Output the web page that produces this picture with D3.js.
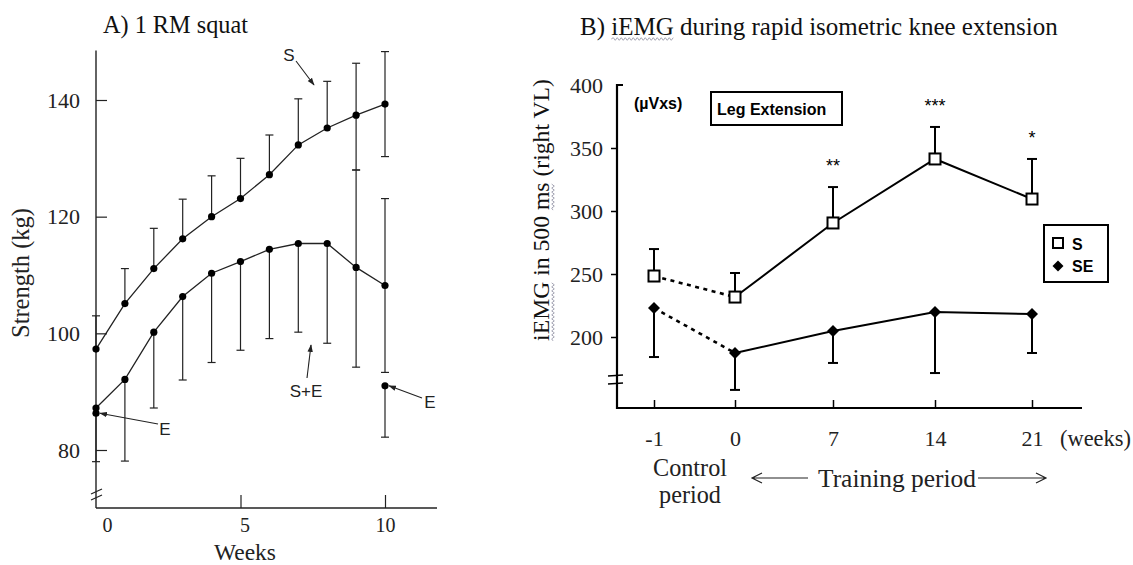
<!DOCTYPE html>
<html><head><meta charset="utf-8">
<script src="https://cdn.jsdelivr.net/npm/d3@7"></script>
<style>body{margin:0;background:#fff} svg{display:block}</style>
</head><body><svg id="c" width="1133" height="565"></svg>
<script>
// ---------- Panel A data: 1 RM squat ----------
const weeksA = [0,1,2,3,4,5,6,7,8,9,10];
const sMean   = [97.3,105.1,111.1,116.2,120.0,123.1,127.2,132.3,135.2,137.4,139.3];
const sUpper  = [103,111.1,118,123,127,130,134,140.2,143.2,146.3,148.3];
const sLower  = [null,null,null,null,null,null,null,null,null,128,130.3];
const seMean  = [87.2,92.1,100.2,106.3,110.3,112.3,114.4,115.4,115.4,111.3,108.2];
const seLower = [78,78.1,87.2,92,95,97.1,99.1,100.2,98.3,94.2,93.3];
const seUpper = [null,null,null,null,null,null,null,null,null,128,123.1];
const eWeeks  = [0,10];
const eMean   = [86.3,91];
const eLower  = [null,82.2];
const yTicksA = [80,100,120,140];
const xTicksA = [0,5,10];

// ---------- Panel B data: iEMG ----------
const weeksB = [-1,0,7,14,21];
const weekLabelsB = ["-1","0","7","14","21"];
const sB       = [248.4,231.7,290.5,341.3,309.5];
const sBUpper  = [269.8,250.8,319,366.7,341.3];
const seB      = [223,187.3,204.8,219.8,218.3];
const seBLower = [184.1,158,179.4,171.4,187.3];
const sigLabels = ["","","**","***","*"];
const yTicksB = [200,250,300,350,400];

const SERIF = "'Liberation Serif','Times New Roman',serif";
const SANS = "'Liberation Sans',Arial,sans-serif";
const svg = d3.select("#c");
const defs = svg.append("defs");
defs.append("marker").attr("id","ah").attr("viewBox","0 0 10 10").attr("refX",9).attr("refY",5)
  .attr("markerWidth",7).attr("markerHeight",7).attr("orient","auto-start-reverse")
  .append("path").attr("d","M0,1.5L10,5L0,8.5Z").attr("fill","#222");

function fit(t, width){
  const n = t.node(); const w = n.getComputedTextLength();
  const fs = parseFloat(t.attr("font-size"));
  t.attr("font-size", fs*width/w);
  return t;
}
function squiggle(g, x0, x1, y){
  let d = "M"+x0+","+y; let up = true;
  for(let x=x0+2; x<=x1; x+=2){ d += "L"+x+","+(y+(up?-1.3:1.3)); up=!up; }
  g.append("path").attr("d",d).attr("fill","none").attr("stroke","#9a9aaa").attr("stroke-width",0.9);
}

// ================= PANEL A =================
const xA = d3.scaleLinear([0,10],[96,385]);
const yA = d3.scaleLinear([80,140],[450,100]);
const A = svg.append("g");
const inkA = "#222";

// titles
fit(A.append("text").attr("x",103).attr("y",33).attr("font-family",SERIF).attr("font-size",22).attr("fill","#111").text("A) 1 RM squat"),145);
fit(A.append("text").attr("transform","translate(29,273) rotate(-90)").attr("text-anchor","middle")
  .attr("font-family",SERIF).attr("font-size",20).attr("fill","#222").text("Strength (kg)"),130);
fit(A.append("text").attr("x",245).attr("y",560).attr("text-anchor","middle")
  .attr("font-family",SERIF).attr("font-size",20).attr("fill","#222").text("Weeks"),62);

// y axis
const gyA = A.append("g").attr("transform","translate(96,0)")
  .call(d3.axisLeft(yA).tickValues(yTicksA).tickSizeInner(-11).tickSizeOuter(0).tickPadding(16));
gyA.select(".domain").remove();
gyA.selectAll("line").attr("stroke",inkA).attr("stroke-width",1.2);
gyA.selectAll("text").attr("font-family",SERIF).attr("font-size",22).attr("fill","#222");
A.append("line").attr("x1",96).attr("x2",96).attr("y1",yA(148.5)).attr("y2",508).attr("stroke",inkA).attr("stroke-width",1.4);
// break marks
A.append("line").attr("x1",91).attr("y1",494).attr("x2",102).attr("y2",489).attr("stroke",inkA).attr("stroke-width",1.2);
A.append("line").attr("x1",91).attr("y1",500).attr("x2",102).attr("y2",495).attr("stroke",inkA).attr("stroke-width",1.2);

// x axis
const gxA = A.append("g").attr("transform","translate(0,508)")
  .call(d3.axisBottom(xA).tickValues(xTicksA).tickSizeInner(-13).tickSizeOuter(0).tickPadding(10));
gxA.select(".domain").remove();
gxA.selectAll("line").attr("stroke",inkA).attr("stroke-width",1.2);
gxA.selectAll(".tick").filter(d=>d===0).select("line").remove();
gxA.selectAll("text").attr("font-family",SERIF).attr("font-size",20).attr("fill","#222")
  .attr("dx",d=>d===0?11:(d===5?4:0));
A.append("line").attr("x1",96).attr("x2",xA(11.8)).attr("y1",508).attr("y2",508).attr("stroke",inkA).attr("stroke-width",1.4);

// error bars
function errA(weeks, mean, bound){
  weeks.forEach((w,i)=>{
    const b = bound[i]; if(b==null) return;
    A.append("line").attr("x1",xA(w)).attr("x2",xA(w)).attr("y1",yA(mean[i])).attr("y2",yA(b)).attr("stroke",inkA).attr("stroke-width",1.2);
    A.append("line").attr("x1",xA(w)-4).attr("x2",xA(w)+4).attr("y1",yA(b)).attr("y2",yA(b)).attr("stroke",inkA).attr("stroke-width",1.2);
  });
}
errA(weeksA,sMean,sUpper); errA(weeksA,sMean,sLower);
errA(weeksA,seMean,seLower); errA(weeksA,seMean,seUpper);
errA(eWeeks,eMean,eLower);

const lineA = d3.line().x((d,i)=>xA(weeksA[i])).y(d=>yA(d));
A.append("path").attr("d",lineA(sMean)).attr("fill","none").attr("stroke",inkA).attr("stroke-width",1.3);
A.append("path").attr("d",lineA(seMean)).attr("fill","none").attr("stroke",inkA).attr("stroke-width",1.3);
[[weeksA,sMean],[weeksA,seMean],[eWeeks,eMean]].forEach(([w,m])=>{
  A.selectAll(null).data(m).enter().append("circle").attr("cx",(d,i)=>xA(w[i])).attr("cy",d=>yA(d)).attr("r",3.6).attr("fill","#000");
});

// annotations
function ann(label, lx, ly, x1,y1,x2,y2){
  A.append("text").attr("x",lx).attr("y",ly).attr("text-anchor","middle").attr("dy","0.35em")
    .attr("font-family",SANS).attr("font-size",17).attr("fill","#222").text(label);
  A.append("line").attr("x1",x1).attr("y1",y1).attr("x2",x2).attr("y2",y2).attr("stroke",inkA).attr("stroke-width",1.1).attr("marker-end","url(#ah)");
}
ann("S",289,55, 296,61, 314,85);
ann("S+E",306,391, 307,378, 311,345);
ann("E",165,429, 158,424, xA(0)+4,yA(eMean[0]));
ann("E",430,402, 422,398, xA(10)+4,yA(eMean[1]));

// ================= PANEL B =================
const xB = d3.scaleLinear(weeksB,[654,735,833,935,1032]);
const yB = d3.scaleLinear([200,400],[337,85]);
const B = svg.append("g");
const axX = 617, axBottom = 408;

// title
const tB = fit(B.append("text").attr("x",580).attr("y",35).attr("font-family",SERIF).attr("font-size",22).attr("fill","#111")
  .text("B) iEMG during rapid isometric knee extension"),478);
{
  const n = tB.node(); const s = 580 + n.getSubStringLength(0,3); const w = n.getSubStringLength(3,4);
  squiggle(B, s, s+w, 39);
}
// y label
const gYL = B.append("g").attr("transform","translate(549,210) rotate(-90)");
const yl = fit(gYL.append("text").attr("text-anchor","middle").attr("font-family",SERIF).attr("font-size",20).attr("fill","#111")
  .text("iEMG in 500 ms (right VL)"),262);
{
  const n = yl.node();
  const p0 = n.getStartPositionOfChar(0).x, w0 = n.getSubStringLength(0,4);
  squiggle(gYL, p0, p0+w0, 4);
  const p1 = n.getStartPositionOfChar(12).x, w1 = n.getSubStringLength(12,2);
  squiggle(gYL, p1, p1+w1, 4);
}

// y axis
const gyB = B.append("g").attr("transform",`translate(${axX},0)`)
  .call(d3.axisLeft(yB).tickValues(yTicksB).tickSizeInner(6).tickSizeOuter(0).tickPadding(8));
gyB.select(".domain").remove();
gyB.selectAll("line").attr("stroke","#000").attr("stroke-width",1.5);
gyB.selectAll(".tick").filter(d=>d===400).select("line").remove();
gyB.selectAll("text").attr("font-family",SERIF).attr("font-size",22).attr("fill","#222");
B.append("path").attr("d",`M${axX+6},${yB(400)}H${axX}V${axBottom}H${xB(21)+50}`)
  .attr("fill","none").attr("stroke","#000").attr("stroke-width",2.2);
// break marks
B.append("line").attr("x1",axX-9).attr("x2",axX+6).attr("y1",376).attr("y2",375).attr("stroke","#000").attr("stroke-width",1.5);
B.append("line").attr("x1",axX-9).attr("x2",axX+6).attr("y1",384).attr("y2",383).attr("stroke","#000").attr("stroke-width",1.5);

// x axis
const gxB = B.append("g").attr("transform",`translate(0,${axBottom})`)
  .call(d3.axisBottom(xB).tickValues(weeksB).tickFormat((d,i)=>weekLabelsB[i]).tickSizeInner(-8).tickSizeOuter(0).tickPadding(22));
gxB.select(".domain").remove();
gxB.selectAll("line").attr("stroke","#000").attr("stroke-width",1.5);
gxB.selectAll("text").attr("font-family",SERIF).attr("font-size",22).attr("fill","#222");
fit(B.append("text").attr("x",1060).attr("y",438).attr("dy","0.35em").attr("font-family",SERIF).attr("font-size",22).attr("fill","#222").text("(weeks)"),71);
const ctl = fit(B.append("text").attr("x",690).attr("y",468).attr("dy","0.35em").attr("text-anchor","middle").attr("font-family",SERIF).attr("font-size",22).attr("fill","#222").text("Control"),74);
B.append("text").attr("x",690).attr("y",495).attr("dy","0.35em").attr("text-anchor","middle").attr("font-family",SERIF).attr("font-size",ctl.attr("font-size")).attr("fill","#222").text("period");
fit(B.append("text").attr("x",897).attr("y",478).attr("dy","0.35em").attr("text-anchor","middle").attr("font-family",SERIF).attr("font-size",22).attr("fill","#222").text("Training period"),158);
function openArrow(x1,x2,y){
  const dir = Math.sign(x2-x1);
  B.append("path").attr("d",`M${x1},${y}H${x2}M${x2-dir*10},${y-5}L${x2},${y}L${x2-dir*10},${y+5}`)
    .attr("fill","none").attr("stroke","#222").attr("stroke-width",1.2);
}
openArrow(808,752,478); openArrow(978,1046,478);

// lines
const lineB = arr => d3.line().x(d=>xB(d.w)).y(d=>yB(d.v))(arr);
[[sB],[seB]].forEach(([vals])=>{
  const pts = weeksB.map((w,i)=>({w,v:vals[i]}));
  B.append("path").attr("d",lineB(pts.slice(0,2))).attr("fill","none").attr("stroke","#000").attr("stroke-width",2.6).attr("stroke-dasharray","4,4.5");
  B.append("path").attr("d",lineB(pts.slice(1))).attr("fill","none").attr("stroke","#000").attr("stroke-width",2);
});
// error bars
function errB(vals,bound){
  weeksB.forEach((w,i)=>{
    B.append("line").attr("x1",xB(w)).attr("x2",xB(w)).attr("y1",yB(vals[i])).attr("y2",yB(bound[i])).attr("stroke","#000").attr("stroke-width",2);
    B.append("line").attr("x1",xB(w)-5).attr("x2",xB(w)+5).attr("y1",yB(bound[i])).attr("y2",yB(bound[i])).attr("stroke","#000").attr("stroke-width",2);
  });
}
errB(sB,sBUpper); errB(seB,seBLower);
// markers
B.selectAll(null).data(sB).enter().append("rect").attr("x",(d,i)=>xB(weeksB[i])-5.5).attr("y",d=>yB(d)-5.5)
  .attr("width",11).attr("height",11).attr("fill","#fff").attr("stroke","#000").attr("stroke-width",2);
const dia = d3.symbol(d3.symbolSquare,72);
B.selectAll(null).data(seB).enter().append("path").attr("d",dia)
  .attr("transform",(d,i)=>`translate(${xB(weeksB[i])},${yB(d)}) rotate(45)`).attr("fill","#000");
// significance
B.selectAll(null).data(sigLabels).enter().append("text").attr("x",(d,i)=>xB(weeksB[i])).attr("y",(d,i)=>yB(sBUpper[i])-15)
  .attr("text-anchor","middle").attr("font-family",SANS).attr("font-size",18).attr("fill","#000").text(d=>d);

// unit + boxes
B.append("text").attr("x",634).attr("y",103).attr("dy","0.35em").attr("font-family",SANS).attr("font-weight","bold").attr("font-size",16).attr("fill","#000").text("(µVxs)");
B.append("rect").attr("x",711).attr("y",92).attr("width",131).attr("height",33).attr("fill","#fff").attr("stroke","#000").attr("stroke-width",2);
B.append("text").attr("x",717).attr("y",109).attr("dy","0.35em").attr("font-family",SANS).attr("font-weight","bold").attr("font-size",16).attr("fill","#000").text("Leg Extension");
// legend
B.append("rect").attr("x",1044).attr("y",225).attr("width",64).attr("height",57).attr("fill","#fff").attr("stroke","#000").attr("stroke-width",2);
B.append("rect").attr("x",1053).attr("y",238).attr("width",10).attr("height",10).attr("fill","#fff").attr("stroke","#000").attr("stroke-width",2);
B.append("path").attr("d",d3.symbol(d3.symbolSquare,60)).attr("transform","translate(1058,266) rotate(45)").attr("fill","#000");
B.append("text").attr("x",1072).attr("y",244).attr("dy","0.35em").attr("font-family",SANS).attr("font-weight","bold").attr("font-size",16).text("S");
B.append("text").attr("x",1072).attr("y",266).attr("dy","0.35em").attr("font-family",SANS).attr("font-weight","bold").attr("font-size",16).text("SE");
</script></body></html>
